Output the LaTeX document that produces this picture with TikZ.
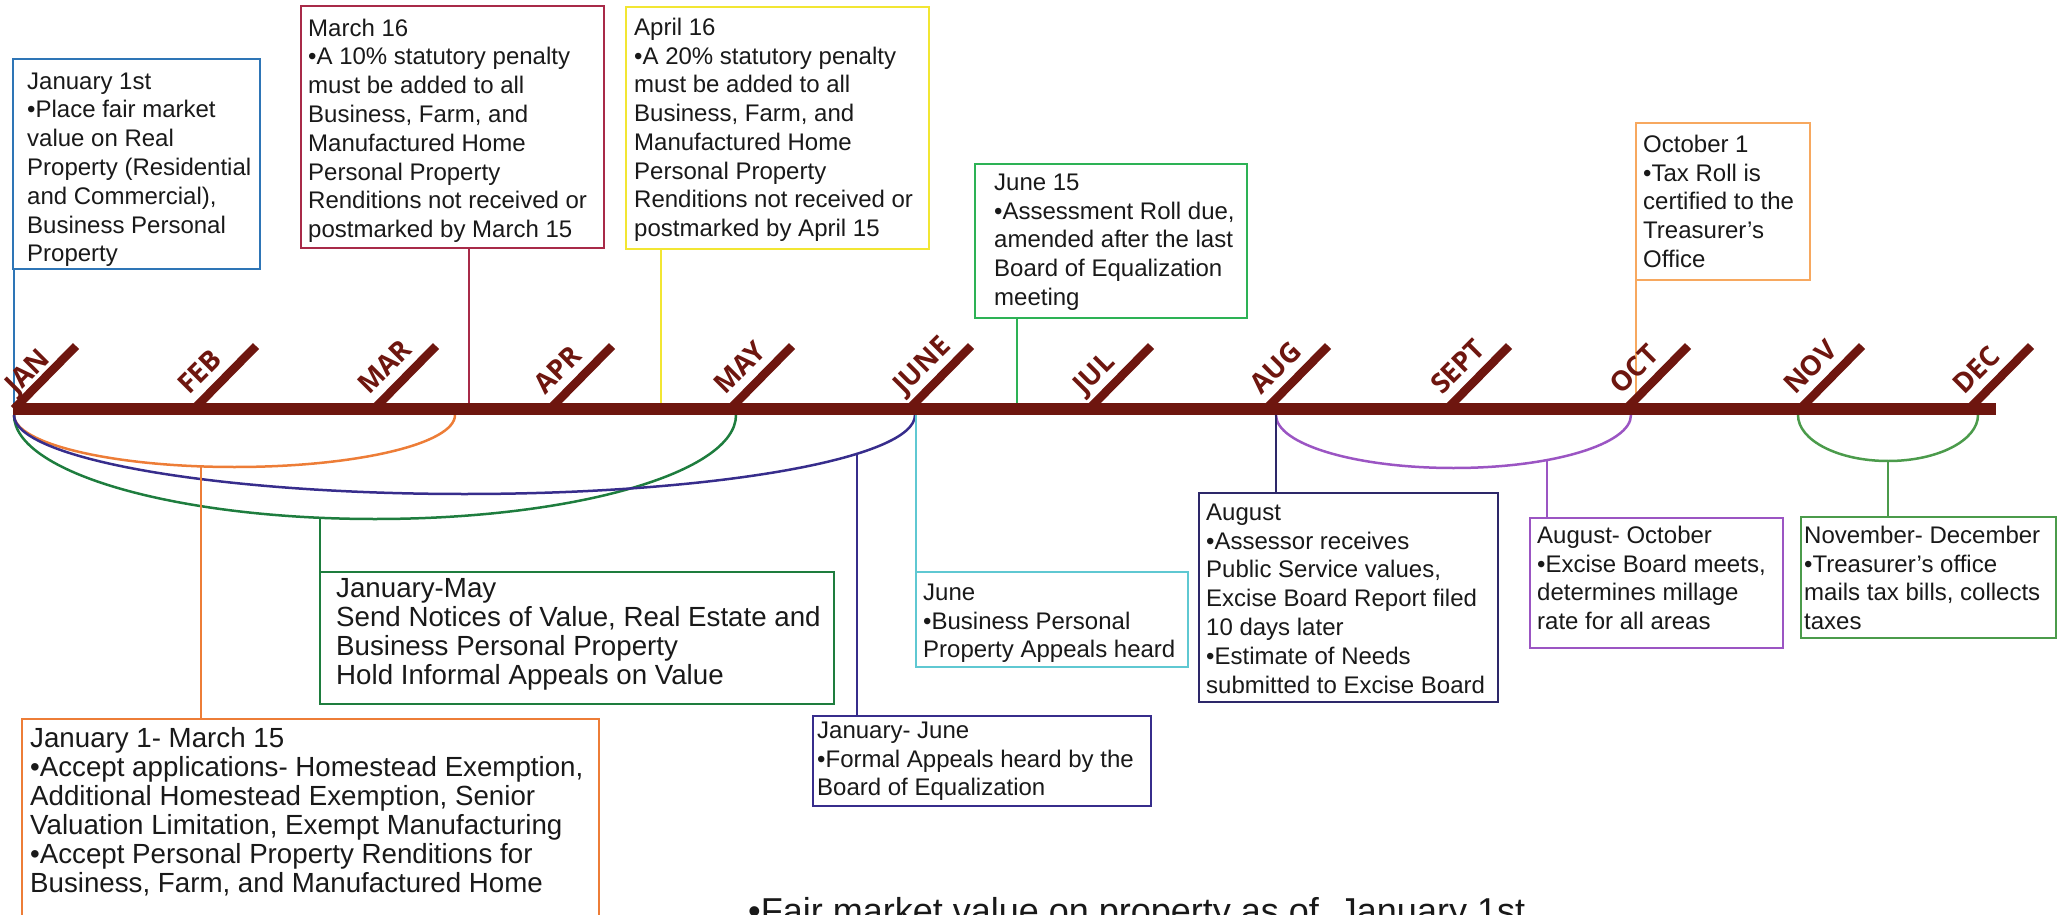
\documentclass[tikz,border=0pt]{standalone}
\usepackage{fontspec}
\setmainfont{Liberation Sans}
\newfontfamily\monthfont{Open Sans}
\usetikzlibrary{calc}
\definecolor{barred}{RGB}{110,22,15}
\definecolor{cblue}{RGB}{46,117,182}
\definecolor{ccrimson}{RGB}{168,42,72}
\definecolor{cyellow}{RGB}{242,230,50}
\definecolor{cgreen}{RGB}{45,178,85}
\definecolor{corangeL}{RGB}{247,168,95}
\definecolor{cgreenD}{RGB}{30,125,62}
\definecolor{corange}{RGB}{237,125,55}
\definecolor{cindigo}{RGB}{55,45,140}
\definecolor{cindigoD}{RGB}{45,40,105}
\definecolor{ccyan}{RGB}{95,200,210}
\definecolor{cpurple}{RGB}{155,85,195}
\definecolor{cgreenM}{RGB}{75,155,75}
\definecolor{txt}{RGB}{25,25,25}
\begin{document}
\begin{tikzpicture}[x=1pt,y=1pt,
  evbox/.style={draw=#1, line width=2.5pt, anchor=north west, inner sep=0pt, outer sep=0pt},
  evtext/.style={anchor=north west, inner sep=0pt, text=txt, font=\fontsize{24}{28.8}\selectfont},
  evtextL/.style={anchor=north west, inner sep=0pt, text=txt, font=\fontsize{27.7}{29}\selectfont},
  linkline/.style={draw=#1, line width=2pt},
  arcline/.style={draw=#1, line width=2.5pt},
  timebar/.style={draw=barred, line width=12pt},
  mtick/.style={draw=barred, line width=8.5pt},
  mlabel/.style={anchor=base west, rotate=45, inner sep=0pt, text=barred, font=\monthfont\bfseries\fontsize{27.5}{27.5}\selectfont},
]
\useasboundingbox (0,0) rectangle (2059,-915);

% ---------- month feet on the bar
\coordinate (mJAN) at (20,-403);
\coordinate (mFEB) at (200,-403);
\coordinate (mMAR) at (380,-403);
\coordinate (mAPR) at (556,-403);
\coordinate (mMAY) at (736,-403);
\coordinate (mJUN) at (915,-403);
\coordinate (mJUL) at (1095,-403);
\coordinate (mAUG) at (1272,-403);
\coordinate (mSEP) at (1453,-403);
\coordinate (mOCT) at (1632,-403);
\coordinate (mNOV) at (1806,-403);
\coordinate (mDEC) at (1975,-403);

% ---------- upper boxes
\node[evbox=cblue, minimum width=247, minimum height=210] (b1) at (13,-59) {};
\node[evtext] (t1) at (27,-68.84) {\begin{tabular}{@{}l@{}}January 1st\\ •Place fair market\\ value on Real\\ Property (Residential\\ and Commercial),\\ Business Personal\\ Property\end{tabular}};

\node[evbox=ccrimson, minimum width=303, minimum height=242] (b2) at (301,-6) {};
\node[evtext] (t2) at (308,-15.84) {\begin{tabular}{@{}l@{}}March 16\\ •A 10\% statutory penalty\\ must be added to all\\ Business, Farm, and\\ Manufactured Home\\ Personal Property\\ Renditions not received or\\ postmarked by March 15\end{tabular}};

\node[evbox=cyellow, minimum width=303, minimum height=242] (b3) at (626,-7) {};
\node[evtext] (t3) at (634,-14.84) {\begin{tabular}{@{}l@{}}April 16\\ •A 20\% statutory penalty\\ must be added to all\\ Business, Farm, and\\ Manufactured Home\\ Personal Property\\ Renditions not received or\\ postmarked by April 15\end{tabular}};

\node[evbox=cgreen, minimum width=272, minimum height=154] (b4) at (975,-164) {};
\node[evtext] (t4) at (994,-169.84) {\begin{tabular}{@{}l@{}}June 15\\ •Assessment Roll due,\\ amended after the last\\ Board of Equalization\\ meeting\end{tabular}};

\node[evbox=corangeL, minimum width=174, minimum height=157] (b5) at (1636,-123) {};
\node[evtext] (t5) at (1643,-131.84) {\begin{tabular}{@{}l@{}}October 1\\ •Tax Roll is\\ certified to the\\ Treasurer’s\\ Office\end{tabular}};

% ---------- lower boxes
\node[evbox=cgreenD, minimum width=514, minimum height=132] (b6) at (320,-572) {};
\node[evtextL] (t6) at (336,-577.3) {\begin{tabular}{@{}l@{}}January-May\\ Send Notices of Value, Real Estate and\\ Business Personal Property\\ Hold Informal Appeals on Value\end{tabular}};

\node[evbox=corange, minimum width=577, minimum height=215] (b7) at (22,-719) {};
\node[evtextL] (t7) at (30,-727.2) {\begin{tabular}{@{}l@{}}January 1- March 15\\ •Accept applications- Homestead Exemption,\\ Additional Homestead Exemption, Senior\\ Valuation Limitation, Exempt Manufacturing\\ •Accept Personal Property Renditions for\\ Business, Farm, and Manufactured Home\end{tabular}};

\node[evbox=cindigo, minimum width=338, minimum height=90] (b8) at (813,-716) {};
\node[evtext] (t8) at (817,-717.84) {\begin{tabular}{@{}l@{}}January- June\\ •Formal Appeals heard by the\\ Board of Equalization\end{tabular}};

\node[evbox=ccyan, minimum width=272, minimum height=95] (b9) at (916,-572) {};
\node[evtext] (t9) at (923,-579.84) {\begin{tabular}{@{}l@{}}June\\ •Business Personal\\ Property Appeals heard\end{tabular}};

\node[evbox=cindigoD, minimum width=299, minimum height=209] (b10) at (1199,-493) {};
\node[evtext] (t10) at (1206,-499.84) {\begin{tabular}{@{}l@{}}August\\ •Assessor receives\\ Public Service values,\\ Excise Board Report filed\\ 10 days later\\ •Estimate of Needs\\ submitted to Excise Board\end{tabular}};

\node[evbox=cpurple, minimum width=253, minimum height=130] (b11) at (1530,-518) {};
\node[evtext] (t11) at (1537,-522.84) {\begin{tabular}{@{}l@{}}August- October\\ •Excise Board meets,\\ determines millage\\ rate for all areas\end{tabular}};

\node[evbox=cgreenM, minimum width=255, minimum height=121] (b12) at (1801,-517) {};
\node[evtext] (t12) at (1804,-522.84) {\begin{tabular}{@{}l@{}}November- December\\ •Treasurer’s office\\ mails tax bills, collects\\ taxes\end{tabular}};

% ---------- connectors from upper boxes to the bar
\coordinate (p1) at (13.5,-405);
\coordinate (p2) at (469,-405);
\coordinate (p3) at (661,-405);
\coordinate (p4) at (1017,-405);
\coordinate (p5) at (1636,-405);
\draw[linkline=cblue] (p1 |- b1.south) -- (p1);
\draw[linkline=ccrimson] (p2 |- b2.south) -- (p2);
\draw[linkline=cyellow] (p3 |- b3.south) -- (p3);
\draw[linkline=cgreen] (p4 |- b4.south) -- (p4);
\draw[linkline=corangeL] (p5 |- b5.south) -- (p5);

% ---------- spans under the bar
\draw[arcline=corange] (14,-415) arc[start angle=180, end angle=360, x radius=220.5, y radius=52];
\draw[arcline=cgreenD] (14,-415) arc[start angle=180, end angle=360, x radius=361, y radius=104];
\draw[arcline=cindigo] (14,-415) arc[start angle=180, end angle=360, x radius=450.5, y radius=79];
\draw[arcline=cpurple] (1276,-415) arc[start angle=180, end angle=360, x radius=177.5, y radius=53];
\draw[arcline=cgreenM] (1798,-415) arc[start angle=180, end angle=360, x radius=90, y radius=46];

\coordinate (s7) at ($(234.5,-415)+(261.3:220.5 and 52)$);
\coordinate (s6) at ($(375,-415)+(261.3:361 and 104)$);
\coordinate (s8) at ($(464.5,-415)+(330.6:450.5 and 79)$);
\coordinate (s11) at ($(1453.5,-415)+(301.8:177.5 and 53)$);
\coordinate (s12) at ($(1888,-415)+(270:90 and 46)$);
\coordinate (q9) at (916,-413);
\coordinate (q10) at (1276,-413);

\draw[linkline=corange] (s7) -- (s7 |- b7.north);
\draw[linkline=cgreenD] (s6) -- (s6 |- b6.north);
\draw[linkline=cindigo] (s8) -- (s8 |- b8.north);
\draw[linkline=cpurple] (s11) -- (s11 |- b11.north);
\draw[linkline=cgreenM] (s12) -- (s12 |- b12.north);
\draw[linkline=ccyan] (q9) -- (q9 |- b9.north);
\draw[linkline=cindigoD] (q10) -- (q10 |- b10.north);

% ---------- timeline bar, ticks, month labels
\draw[timebar] (13,-409) -- (1996,-409);
\foreach \m/\lab/\dx in {mJAN/JAN/-4, mFEB/FEB/-11, mMAR/MAR/-11, mAPR/APR/-11, mMAY/MAY/-11, mJUN/JUNE/-11, mJUL/JUL/-11, mAUG/AUG/-11, mSEP/SEPT/-11, mOCT/OCT/-11, mNOV/NOV/-11, mDEC/DEC/-11}{
  \draw[mtick] ($(\m)+(-6,-6)$) -- ($(\m)+(56,57)$);
  \node[mlabel] (l\lab) at ($(\m)+(\dx,7)$) {\lab};
}

% ---------- bottom note
\node[anchor=base west, inner sep=0pt, text=txt, font=\fontsize{36}{40}\selectfont] (note) at (748,-923) {•Fair market value on property as of\ \ January 1st};
\end{tikzpicture}
\end{document}
